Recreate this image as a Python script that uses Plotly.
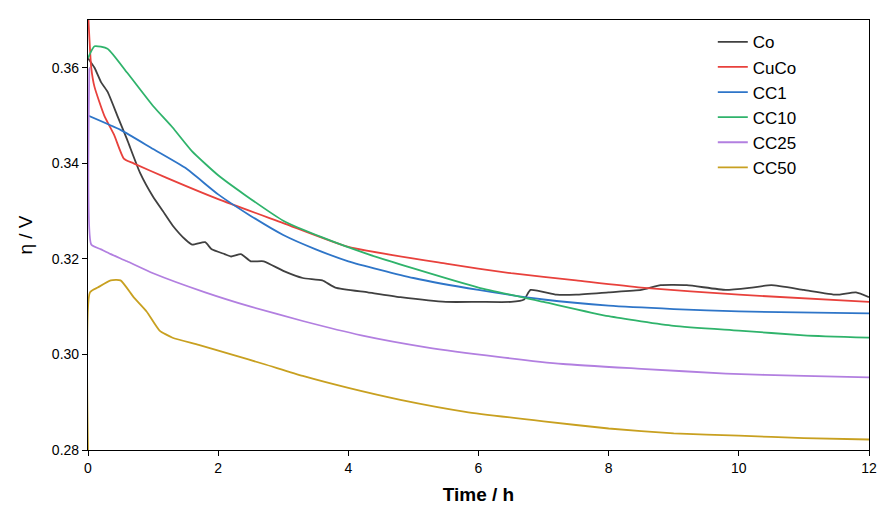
import plotly.graph_objects as go

co_t = [0,0.1,0.2,0.3,0.45,0.6,0.8,1.0,1.15,1.3,1.5,1.6,1.8,1.9,2.1,2.2,2.35,2.5,2.7,3.0,3.3,3.6,3.8,4.3,4.8,5.5,6.0,6.5,6.7,6.8,7.2,7.5,8.0,8.5,8.8,9.2,9.8,10.2,10.5,11.0,11.5,11.8,12]
co_v = [0.362,0.360,0.357,0.355,0.350,0.345,0.338,0.333,0.330,0.327,0.324,0.323,0.3235,0.322,0.321,0.3205,0.321,0.3195,0.3195,0.3175,0.316,0.3155,0.314,0.313,0.312,0.311,0.311,0.311,0.3115,0.3135,0.3125,0.3125,0.313,0.3135,0.3145,0.3145,0.3135,0.314,0.3145,0.3135,0.3125,0.313,0.312]
cuco_t = [0,0.05,0.1,0.25,0.4,0.55,0.7,1.2,2,3,4,5.5,6.5,7.5,8.5,10,12]
cuco_v = [0.372,0.36,0.356,0.350,0.346,0.341,0.340,0.337,0.3325,0.3275,0.3225,0.319,0.317,0.3155,0.314,0.3125,0.311]
cc1_t = [0,0.5,1,1.5,2,2.5,3,3.5,4,5,6,7,8,9,10,12]
cc1_v = [0.350,0.347,0.343,0.339,0.3335,0.329,0.325,0.322,0.3195,0.316,0.3135,0.3115,0.3102,0.3095,0.309,0.3086]
cc10_t = [0,0.1,0.3,0.6,1,1.3,1.6,2,2.4,3,3.6,4.3,5,6,7,8,9,10,11,12]
cc10_v = [0.362,0.3645,0.364,0.359,0.352,0.3475,0.3425,0.3375,0.3335,0.328,0.3245,0.321,0.318,0.314,0.311,0.308,0.306,0.305,0.304,0.3035]
cc25_t = [0,0.02,0.05,0.2,0.35,0.6,1,1.8,2.5,3.3,4.2,5.2,6.3,7.3,8.5,9.8,11,12]
cc25_v = [0.33,0.36,0.323,0.322,0.321,0.3195,0.317,0.313,0.310,0.307,0.304,0.3015,0.2995,0.298,0.297,0.296,0.2955,0.2952]
cc50_t = [0,0.03,0.15,0.35,0.5,0.7,0.9,1.1,1.3,1.7,2.2,2.7,3.3,4,4.8,5.8,7,8,9,10,11,12]
cc50_v = [0.28,0.313,0.314,0.3155,0.3155,0.312,0.309,0.305,0.3035,0.302,0.300,0.298,0.2955,0.293,0.2905,0.288,0.286,0.2845,0.2835,0.283,0.2825,0.2822]

series = [("Co",co_t,co_v,"#404040"),("CuCo",cuco_t,cuco_v,"#e8413c"),("CC1",cc1_t,cc1_v,"#2e75c8"),
          ("CC10",cc10_t,cc10_v,"#2fb36b"),("CC25",cc25_t,cc25_v,"#b27fe0"),("CC50",cc50_t,cc50_v,"#c8a020")]

fig = go.Figure()
for n,t,v,c in series:
    fig.add_trace(go.Scatter(x=t,y=v,name=n,mode="lines",line=dict(color=c,width=1.8,shape="spline",smoothing=0.5)))

F = "Arial, Liberation Sans"
ax = dict(showline=True,mirror=True,linecolor="black",linewidth=1.2,ticks="outside",ticklen=5,automargin=False,
          tickcolor="black",showgrid=False,zeroline=False,tickfont=dict(size=14,family=F,color="black"))
fig.update_xaxes(**ax,range=[0,12],tickvals=[0,2,4,6,8,10,12],title=dict(text="<b>Time / h</b>",font=dict(size=19,color="black",family=F),standoff=12))
fig.update_yaxes(**ax,range=[0.28,0.37],tickvals=[0.28,0.30,0.32,0.34,0.36],tickformat=".2f",
                 title=dict(text="η / V",font=dict(size=19,color="black",family=F),standoff=14))
fig.update_layout(width=887,height=521,plot_bgcolor="white",paper_bgcolor="white",
                  margin=dict(l=80,r=26,t=12,b=79),
                  legend=dict(x=0.80,y=0.99,xanchor="left",yanchor="top",bgcolor="rgba(0,0,0,0)",
                              font=dict(size=17,family=F,color="black"),tracegroupgap=0))
fig.write_html("out.html")
